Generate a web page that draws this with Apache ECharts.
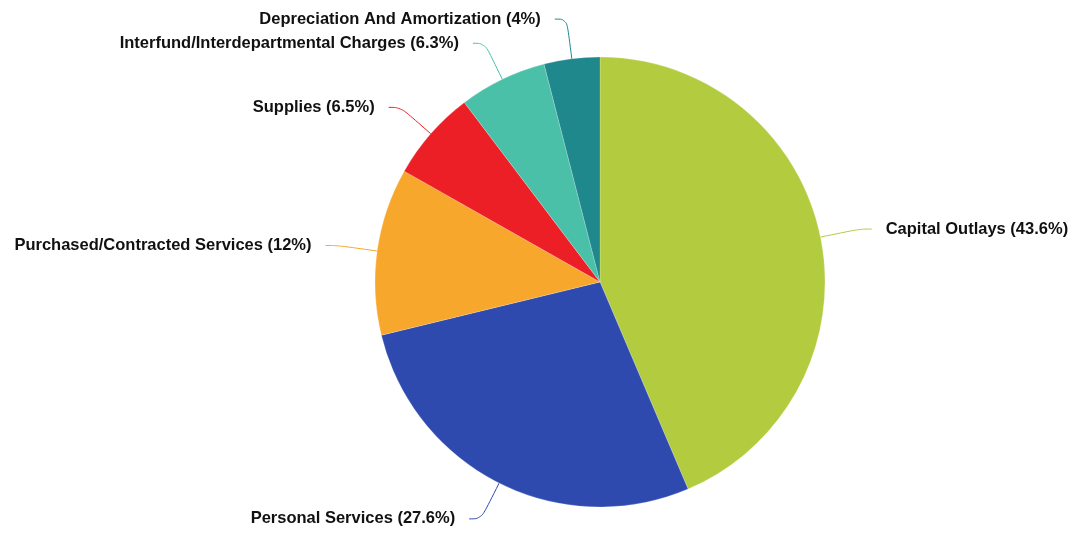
<!DOCTYPE html>
<html>
<head>
<meta charset="utf-8">
<script src="https://cdn.jsdelivr.net/npm/echarts@6/dist/echarts.min.js"></script>
<style>
html, body { margin: 0; padding: 0; background: #fff; }
#chart { width: 1073px; height: 536px; }
</style>
</head>
<body>
<div id="chart"></div>
<script>
// 分类与数值
var categories = ['Capital Outlays', 'Personal Services', 'Purchased/Contracted Services',
    'Supplies', 'Interfund/Interdepartmental Charges', 'Depreciation And Amortization'];
var values = [43.6, 27.6, 12, 6.5, 6.3, 4];
var colors = ['#b3cb3f', '#2e4aaf', '#f7a72b', '#ec1f26', '#4bc0a9', '#1f888c'];

var chart = echarts.init(document.getElementById('chart'));
chart.setOption({
    animation: false,
    color: colors,
    series: [
        {
            type: 'pie',
            center: [600, 282],
            radius: 225,
            startAngle: 90,
            clockwise: true,
            data: categories.map(function (name, i) {
                return {name: name, value: values[i]};
            }),
            itemStyle: {
                borderColor: 'rgba(255,255,255,0.4)',
                borderWidth: 0.5
            },
            label: {
                formatter: '{b} ({c}%)',
                fontFamily: 'Liberation Sans',
                fontWeight: 'bold',
                fontSize: 16.5,
                color: '#111',
                overflow: 'none',
                distanceToLabelLine: 14
            },
            labelLine: {
                show: true,
                smooth: 0.4,
                length: 40,
                length2: 12,
                lineStyle: {width: 1}
            }
        }
    ]
});
</script>
</body>
</html>
